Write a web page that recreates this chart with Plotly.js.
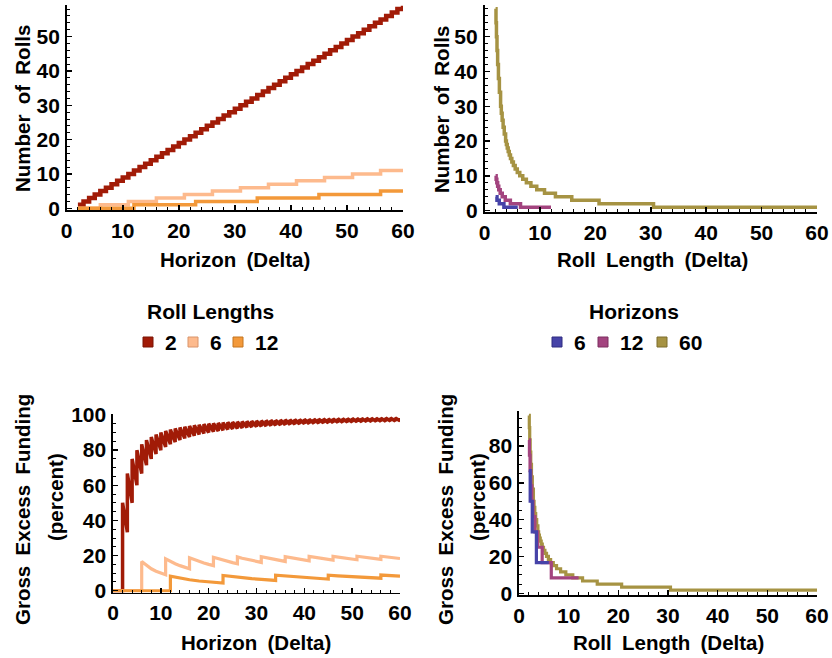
<!DOCTYPE html>
<html>
<head>
<meta charset="utf-8">
<script src="https://cdn.plot.ly/plotly-3.0.1.min.js"></script>
<style>html,body{margin:0;padding:0;background:#fff;}#chart{width:832px;height:658px;}</style>
</head>
<body>
<div id="chart"></div>
<script>
// ---------- data ----------
const rollLengths = [2, 6, 12];
const horizons = [6, 12, 60];

// Top-left: number of rolls vs horizon (step changes)
const horizonStepsL2 = [2,3,4,5,6,7,8,9,10,11,12,13,14,15,16,17,18,19,20,21,22,23,24,25,26,27,28,29,30,31,32,33,34,35,36,37,38,39,40,41,42,43,44,45,46,47,48,49,50,51,52,53,54,55,56,57,58,59,60];
const rollsL2 = [1,2,3,4,5,6,7,8,9,10,11,12,13,14,15,16,17,18,19,20,21,22,23,24,25,26,27,28,29,30,31,32,33,34,35,36,37,38,39,40,41,42,43,44,45,46,47,48,49,50,51,52,53,54,55,56,57,58,59];
const horizonStepsL6 = [2, 6, 11, 16, 21, 26, 31, 36, 41, 46, 51, 56, 60];
const rollsL6 = [0, 1, 2, 3, 4, 5, 6, 7, 8, 9, 10, 11, 11];
const horizonStepsL12 = [2, 12, 23, 34, 45, 56, 60];
const rollsL12 = [0, 1, 2, 3, 4, 5, 5];

// Top-right / bottom-right: vs roll length (step changes)
const lengthStepsH6 = [2, 2.25, 2.667, 3.5, 6];
const rollsH6 = [4, 3, 2, 1, 1];
const fundingH6 = [66.67, 50, 33.33, 16.67, 16.67];
const lengthStepsH12 = [2, 2.1, 2.222, 2.375, 2.571, 2.833, 3.2, 3.75, 4.667, 6.5, 12];
const rollsH12 = [10, 9, 8, 7, 6, 5, 4, 3, 2, 1, 1];
const fundingH12 = [83.33, 75, 66.67, 58.33, 50, 41.67, 33.33, 25, 16.67, 8.33, 8.33];
const lengthStepsH60 = [2, 2.073, 2.157, 2.255, 2.372, 2.513, 2.686, 2.903, 3.034, 3.185, 3.36, 3.565, 3.81, 3.95, 4.105, 4.278, 4.471, 4.688, 4.933, 5.214, 5.538, 5.917, 6.364, 6.9, 7.556, 8.375, 9.429, 10.833, 12.8, 15.75, 20.667, 30.5, 60];
const rollsH60 = [58, 54, 50, 46, 42, 38, 34, 30, 28, 26, 24, 22, 20, 19, 18, 17, 16, 15, 14, 13, 12, 11, 10, 9, 8, 7, 6, 5, 4, 3, 2, 1, 1];
const fundingH60 = [96.67, 90, 83.33, 76.67, 70, 63.33, 56.67, 50, 46.67, 43.33, 40, 36.67, 33.33, 31.67, 30, 28.33, 26.67, 25, 23.33, 21.67, 20, 18.33, 16.67, 15, 13.33, 11.67, 10, 8.33, 6.67, 5, 3.33, 1.67, 1.67];

// Bottom-left: gross excess funding vs horizon
const peaksL2 = [50,66.67,75,80,83.33,85.71,87.5,88.89,90,90.91,91.67,92.31,92.86,93.33,93.75,94.12,94.44,94.74,95,95.24,95.45,95.65,95.83,96,96.15,96.3,96.43,96.55,96.67,96.77,96.88,96.97,97.06,97.14,97.22,97.3,97.37,97.44,97.5,97.56,97.62,97.67,97.73,97.78,97.83,97.87,97.92,97.96,98,98.04,98.08,98.11,98.15,98.18,98.21,98.25,98.28,98.31,98.33];
const troughsL2 = [33.33,50,60,66.67,71.43,75,77.78,80,81.82,83.33,84.62,85.71,86.67,87.5,88.24,88.89,89.47,90,90.48,90.91,91.3,91.67,92,92.31,92.59,92.86,93.1,93.33,93.55,93.75,93.94,94.12,94.29,94.44,94.59,94.74,94.87,95,95.12,95.24,95.35,95.45,95.56,95.65,95.74,95.83,95.92,96,96.08,96.15,96.23,96.3,96.36,96.43,96.49,96.55,96.61,96.67];
const fundHorizonL6 = [0,6,6,7,8,9,10,11,11,12,13,14,15,16,16,17,18,19,20,21,21,22,23,24,25,26,26,27,28,29,30,31,31,32,33,34,35,36,36,37,38,39,40,41,41,42,43,44,45,46,46,47,48,49,50,51,51,52,53,54,55,56,56,57,58,59,60];
const fundingL6 = [0,0,16.67,14.29,12.5,11.11,10,9.09,18.18,16.67,15.38,14.29,13.33,12.5,18.75,17.65,16.67,15.79,15,14.29,19.05,18.18,17.39,16.67,16,15.38,19.23,18.52,17.86,17.24,16.67,16.13,19.35,18.75,18.18,17.65,17.14,16.67,19.44,18.92,18.42,17.95,17.5,17.07,19.51,19.05,18.6,18.18,17.78,17.39,19.57,19.15,18.75,18.37,18,17.65,19.61,19.23,18.87,18.52,18.18,17.86,19.64,19.3,18.97,18.64,18.33];
const fundHorizonL12 = [0,12,12,14,16,18,20,22,23,23,25,27,29,31,33,34,34,36,38,40,42,44,45,45,47,49,51,53,55,56,56,58,60];
const fundingL12 = [0,0,8.33,7.14,6.25,5.56,5,4.55,4.35,8.7,8,7.41,6.9,6.45,6.06,5.88,8.82,8.33,7.89,7.5,7.14,6.82,6.67,8.89,8.51,8.16,7.84,7.55,7.27,7.14,8.93,8.62,8.33];

// ---------- styles ----------
const rollColors = ['#A11B07', '#FDBA8D', '#F3993A'];
const rollEdge = ['#7a1405', '#d9946a', '#c4741f'];
const horizonColors = ['#4643A8', '#A3447F', '#A69343'];
const horizonEdge = ['#2e2c80', '#7d2f60', '#7d6d2d'];
const FONT = 'Liberation Sans, Arial, sans-serif';
const TICK = 21, TITLE = 20.5;
const SP = '\u2002';
const W = 832, H = 658;
const fx = p => p / W;
const fy = p => 1 - p / H;

// build the bottom-left L=2 sawtooth from peaks/troughs
const l2x = [0, horizonStepsL2[0]], l2y = [0, 0];
for (let i = 0; i < peaksL2.length; i++) {
  l2x.push(horizonStepsL2[i]); l2y.push(peaksL2[i]);
  if (i < troughsL2.length) { l2x.push(horizonStepsL2[i + 1]); l2y.push(troughsL2[i]); }
}

const traces = [
  {x: horizonStepsL2, y: rollsL2, xaxis: 'x', yaxis: 'y', mode: 'lines', line: {shape: 'hv', color: rollColors[0], width: 4.5}},
  {x: horizonStepsL6, y: rollsL6, xaxis: 'x', yaxis: 'y', mode: 'lines', line: {shape: 'hv', color: rollColors[1], width: 3.5}},
  {x: horizonStepsL12, y: rollsL12, xaxis: 'x', yaxis: 'y', mode: 'lines', line: {shape: 'hv', color: rollColors[2], width: 3.5}},

  {x: lengthStepsH60, y: rollsH60, xaxis: 'x2', yaxis: 'y2', mode: 'lines', line: {shape: 'hv', color: horizonColors[2], width: 3.5}},
  {x: lengthStepsH12, y: rollsH12, xaxis: 'x2', yaxis: 'y2', mode: 'lines', line: {shape: 'hv', color: horizonColors[1], width: 3.5}},
  {x: lengthStepsH6, y: rollsH6, xaxis: 'x2', yaxis: 'y2', mode: 'lines', line: {shape: 'hv', color: horizonColors[0], width: 3.5}},

  {x: l2x, y: l2y, xaxis: 'x3', yaxis: 'y3', mode: 'lines', line: {color: rollColors[0], width: 3.5}},
  {x: fundHorizonL6, y: fundingL6, xaxis: 'x3', yaxis: 'y3', mode: 'lines', line: {color: rollColors[1], width: 3.2}},
  {x: fundHorizonL12, y: fundingL12, xaxis: 'x3', yaxis: 'y3', mode: 'lines', line: {color: rollColors[2], width: 3.2}},

  {x: lengthStepsH60, y: fundingH60, xaxis: 'x4', yaxis: 'y4', mode: 'lines', line: {shape: 'hv', color: horizonColors[2], width: 3.2}},
  {x: lengthStepsH12, y: fundingH12, xaxis: 'x4', yaxis: 'y4', mode: 'lines', line: {shape: 'hv', color: horizonColors[1], width: 3.2}},
  {x: lengthStepsH6, y: fundingH6, xaxis: 'x4', yaxis: 'y4', mode: 'lines', line: {shape: 'hv', color: horizonColors[0], width: 3.2}}
].map(t => Object.assign(t, {showlegend: false, hoverinfo: 'skip'}));

function axis(pxA, pxB, range, dtick, minorDtick, anchor, isY) {
  return {
    domain: isY ? [fy(pxB), fy(pxA)] : [fx(pxA), fx(pxB)],
    range: range, anchor: anchor,
    showline: true, linecolor: 'black', linewidth: 1.6,
    ticks: 'inside', ticklen: 5, tickwidth: 1.5, tickcolor: 'black',
    tick0: 0, dtick: dtick,
    minor: {dtick: minorDtick, ticks: 'inside', ticklen: 3, tickwidth: 1, tickcolor: 'black', showgrid: false},
    showgrid: false, zeroline: false, fixedrange: true,
    ticklabelstandoff: 1,
    tickfont: {family: FONT, size: TICK, weight: 'bold', color: 'black'}
  };
}

const layout = {
  width: W, height: H,
  margin: {l: 0, r: 0, t: 0, b: 0},
  paper_bgcolor: 'white', plot_bgcolor: 'white',
  showlegend: false,
  xaxis:  axis(66.7, 403, [0, 60], 10, 2, 'y', false),
  yaxis:  axis(5, 210, [-0.5, 59.2], 10, 2, 'x', true),
  xaxis2: axis(484.5, 817, [0, 60], 10, 2, 'y2', false),
  yaxis2: axis(5, 212.4, [-0.5, 59.1], 10, 2, 'x2', true),
  xaxis3: axis(113, 400, [0, 60], 10, 2, 'y3', false),
  yaxis3: axis(414.1, 592.5, [-1, 100.5], 20, 5, 'x3', true),
  xaxis4: axis(519, 817, [0, 60], 10, 2, 'y4', false),
  yaxis4: axis(411.1, 595.1, [-1, 99], 20, 5, 'x4', true),
  annotations: [],
  shapes: []
};

function label(text, x, y, angle, size) {
  layout.annotations.push({
    text: text, xref: 'paper', yref: 'paper', x: fx(x), y: fy(y),
    xanchor: 'center', yanchor: 'middle', showarrow: false, textangle: angle || 0,
    font: {family: FONT, size: size || TITLE, weight: 'bold', color: 'black'}
  });
}
// axis titles
label('Horizon' + SP + '(Delta)', 235, 259);
label('Roll' + SP + 'Length' + SP + '(Delta)', 652, 259);
label('Horizon' + SP + '(Delta)', 256, 642);
label('Roll' + SP + 'Length' + SP + '(Delta)', 668, 642);
label('Number' + SP + 'of' + SP + 'Rolls', 22, 109, -90);
label('Number' + SP + 'of' + SP + 'Rolls', 441, 109, -90);
label('Gross' + SP + 'Excess' + SP + 'Funding', 22, 510, -90);
label('(percent)', 55, 497, -90);
label('Gross' + SP + 'Excess' + SP + 'Funding', 445, 510, -90);
label('(percent)', 477, 497, -90);

// legends
function legend(title, titleX, names, colors, edges, boxX) {
  label(title, titleX, 312, 0, 21);
  names.forEach((n, i) => {
    const cx = boxX[i], cy = 342;
    layout.shapes.push({type: 'rect', xref: 'paper', yref: 'paper',
      x0: fx(cx - 5), x1: fx(cx + 5), y0: fy(cy + 5), y1: fy(cy - 5),
      fillcolor: colors[i], line: {color: edges[i], width: 1}});
    layout.annotations.push({text: String(n), xref: 'paper', yref: 'paper',
      x: fx(cx + 15), y: fy(cy), xanchor: 'left', yanchor: 'middle', showarrow: false,
      font: {family: FONT, size: 21, weight: 'bold', color: 'black'}});
  });
}
legend('Roll Lengths', 210, rollLengths, rollColors, rollEdge, [148, 193, 238]);
legend('Horizons', 634, horizons, horizonColors, horizonEdge, [557, 603, 662]);

Plotly.newPlot('chart', traces, layout, {staticPlot: true, displayModeBar: false});
</script>
</body>
</html>
